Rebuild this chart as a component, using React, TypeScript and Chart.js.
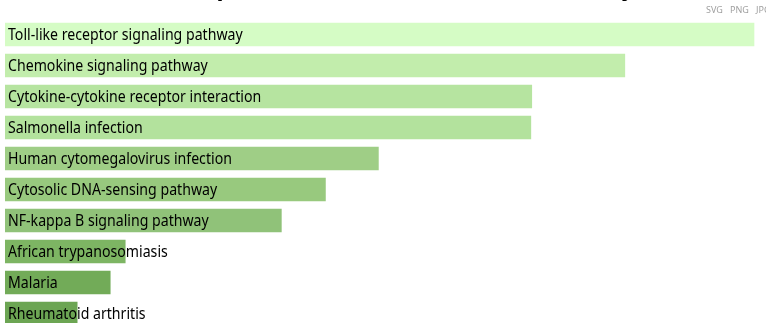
import React, { useEffect, useRef } from "react";
import { Chart, registerables } from "chart.js";

Chart.register(...registerables);

const terms = [
  "Toll-like receptor signaling pathway",
  "Chemokine signaling pathway",
  "Cytokine-cytokine receptor interaction",
  "Salmonella infection",
  "Human cytomegalovirus infection",
  "Cytosolic DNA-sensing pathway",
  "NF-kappa B signaling pathway",
  "African trypanosomiasis",
  "Malaria",
  "Rheumatoid arthritis",
];

const scores = [24.5, 20.28, 17.24, 17.21, 12.23, 10.5, 9.06, 3.96, 3.47, 2.39];

const barColors = [
  "#d5fcc5",
  "#c2edac",
  "#b6e4a0",
  "#b3e29d",
  "#9fce86",
  "#98c97e",
  "#90c279",
  "#7db563",
  "#72ab58",
  "#6ca553",
];

const titleText = "Scores from the top enriched KEGG terms of the study";
const exportLinks = ["SVG", "PNG", "JPG"];

const SX = 0.883;

const overlayPlugin = {
  id: "overlay",
  afterDatasetsDraw(chart: any) {
    const ctx = chart.ctx;
    const meta = chart.getDatasetMeta(0);
    const xScale = chart.scales.x;
    ctx.save();
    ctx.fillStyle = "#000";
    ctx.font = "16px 'Noto Sans', 'Open Sans', sans-serif";
    ctx.textBaseline = "middle";
    ctx.textAlign = "left";
    meta.data.forEach((bar: any, i: number) => {
      ctx.save();
      ctx.translate(xScale.left + 3, bar.y + 1);
      ctx.scale(SX, 1);
      ctx.fillText(terms[i], 0, 0);
      ctx.restore();
    });
    // title (mostly above the visible area)
    ctx.save();
    ctx.font = "bold 26px 'Noto Sans', sans-serif";
    ctx.textBaseline = "alphabetic";
    ctx.translate(0, -5);
    ctx.scale(0.91, 1);
    ctx.fillText(titleText, 0, 0);
    ctx.restore();
    // export links
    ctx.font = "9px 'Noto Sans', sans-serif";
    ctx.fillStyle = "#a0a0a0";
    ctx.textBaseline = "alphabetic";
    const xs = [706, 730, 756];
    exportLinks.forEach((t, i) => ctx.fillText(t, xs[i], 13));
    ctx.restore();
  },
};

export default function App() {
  const ref = useRef<HTMLCanvasElement>(null);
  useEffect(() => {
    if (!ref.current) return;
    const chart = new Chart(ref.current, {
      type: "bar",
      data: {
        labels: terms,
        datasets: [
          {
            data: scores,
            backgroundColor: barColors,
            borderColor: "rgba(255,255,255,0.45)",
            borderWidth: 1,
            barThickness: 25,
          },
        ],
      },
      options: {
        indexAxis: "y",
        animation: false,
        responsive: false,
        maintainAspectRatio: false,
        layout: { padding: { left: 5, right: 11, top: 19, bottom: 6 } },
        plugins: {
          legend: { display: false },
          tooltip: { enabled: false },
          title: { display: false },
        },
        scales: {
          x: { display: false, min: 0, max: 24.5 },
          y: { display: false },
        },
      },
      plugins: [overlayPlugin],
    });
    return () => chart.destroy();
  }, []);
  return (
    <div
      style={{
        position: "fixed",
        left: 0,
        top: 0,
        width: 766,
        height: 323,
        overflow: "hidden",
        background: "#fff",
      }}
    >
      <canvas ref={ref} width={766} height={335} style={{ display: "block" }} />
    </div>
  );
}
